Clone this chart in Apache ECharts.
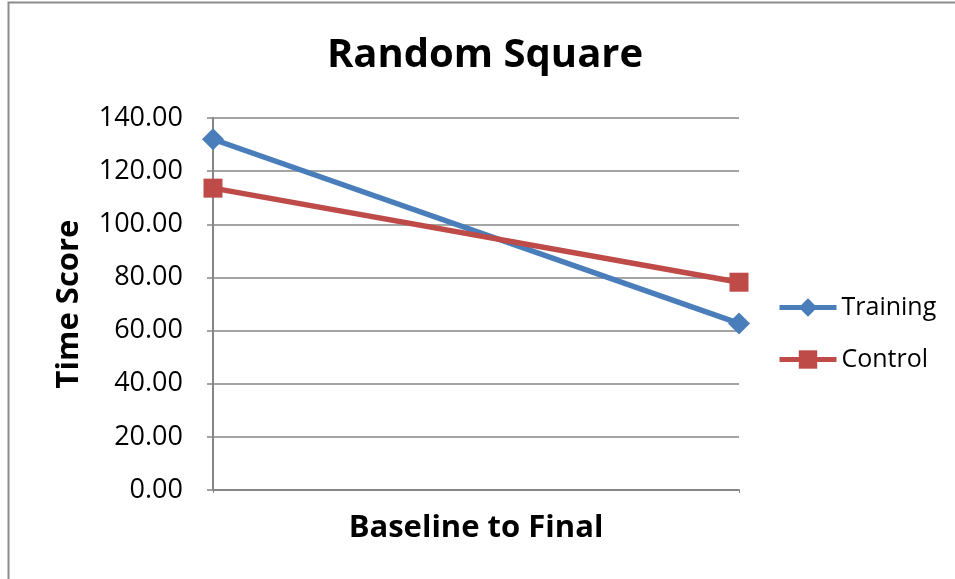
<!DOCTYPE html>
<html>
<head>
<meta charset="utf-8">
<script src="https://cdn.jsdelivr.net/npm/echarts@6/dist/echarts.min.js"></script>
<style>
  html, body { margin: 0; padding: 0; background: #fff; }
  #chart { width: 955px; height: 579px; }
</style>
</head>
<body>
<div id="chart"></div>
<script>
// Two measurement points, shown without category labels
const categories = ['Baseline', 'Final'];
const trainingValues = [132.0, 62.7];
const controlValues = [113.6, 78.2];
const yTicks = { min: 0, max: 140, interval: 20 };

const FONT = '"Open Sans", "DejaVu Sans", sans-serif';
const BLUE = '#4a7ebb';
const RED = '#be4b48';

const chart = echarts.init(document.getElementById('chart'));
chart.setOption({
  animation: false,
  backgroundColor: '#ffffff',
  title: {
    text: 'Random Square',
    left: 480,
    top: 31,
    textAlign: 'center',
    textStyle: { fontFamily: FONT, fontSize: 40, fontWeight: 'bold', color: '#000' }
  },
  graphic: [{
    type: 'rect',
    shape: { x: 8.5, y: 2.5, width: 1000, height: 1000 },
    style: { fill: 'none', stroke: '#8c8c8c', lineWidth: 2 },
    silent: true
  }],
  legend: {
    orient: 'vertical',
    left: 772,
    top: 290,
    itemWidth: 57,
    itemHeight: 23,
    itemGap: 27,
    textStyle: { fontFamily: FONT, fontSize: 25, color: '#000' },
    data: [
      { name: 'Training', lineStyle: { width: 5 } },
      { name: 'Control', lineStyle: { width: 5 } }
    ]
  },
  grid: { left: 213, right: 216, top: 118, bottom: 89, containLabel: false },
  xAxis: {
    type: 'category',
    data: categories,
    boundaryGap: false,
    name: 'Baseline to Final',
    nameLocation: 'middle',
    nameGap: 23,
    nameTextStyle: { fontFamily: FONT, fontSize: 31, fontWeight: 'bold', color: '#000', verticalAlign: 'top' },
    axisLine: { lineStyle: { color: '#868686', width: 2 } },
    axisTick: { show: true, length: 3, lineStyle: { color: '#868686' } },
    axisLabel: { show: false }
  },
  yAxis: {
    type: 'value',
    min: yTicks.min,
    max: yTicks.max,
    interval: yTicks.interval,
    name: 'Time Score',
    nameLocation: 'middle',
    nameGap: 128,
    nameRotate: 90,
    nameTextStyle: { fontFamily: FONT, fontSize: 31, fontWeight: 'bold', color: '#000' },
    axisLine: { show: true, lineStyle: { color: '#868686', width: 2 } },
    axisTick: { show: true, length: 6, inside: false, lineStyle: { color: '#868686', width: 1.5 } },
    axisLabel: {
      margin: 30,
      fontFamily: FONT,
      fontSize: 27,
      color: '#000',
      formatter: v => v.toFixed(2)
    },
    splitLine: { show: true, lineStyle: { color: '#868686', width: 1.5 } }
  },
  series: [
    {
      name: 'Training',
      type: 'line',
      data: trainingValues,
      symbol: 'diamond',
      symbolSize: 22,
      color: BLUE,
      lineStyle: { width: 5.5, color: BLUE },
      itemStyle: { color: BLUE }
    },
    {
      name: 'Control',
      type: 'line',
      data: controlValues,
      symbol: 'rect',
      symbolSize: 19,
      color: RED,
      lineStyle: { width: 5.5, color: RED },
      itemStyle: { color: RED }
    }
  ]
});
</script>
</body>
</html>
